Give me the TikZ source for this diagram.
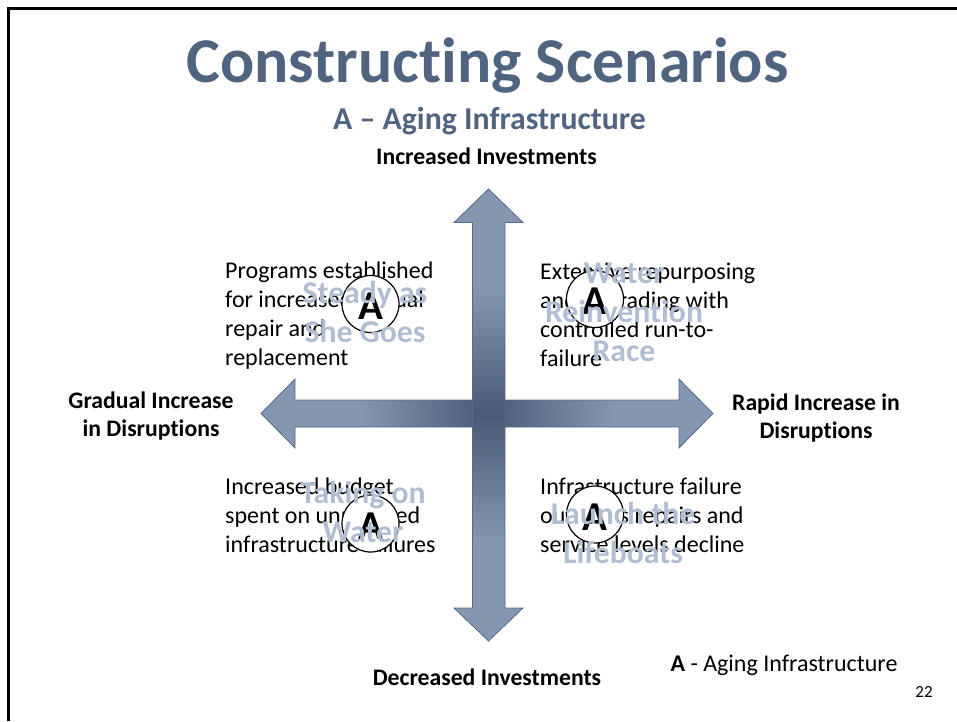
\documentclass[tikz,border=0pt]{standalone}
\usepackage{fontspec}
\setmainfont{Carlito}[Ligatures={TeX,NoCommon}]
\definecolor{axislight}{HTML}{8496B0}
\definecolor{axisdark}{HTML}{4A5A76}
\definecolor{axisedge}{HTML}{586C8A}
\definecolor{headblue}{HTML}{50647F}
\definecolor{faintblue}{HTML}{B0BDD2}
\pgfdeclareverticalshading{axisfade}{100bp}{color(0bp)=(axislight); color(36bp)=(axislight); color(50bp)=(axisdark); color(64bp)=(axislight); color(100bp)=(axislight)}
\pgfdeclarehorizontalshading{axisfadeh}{100bp}{color(0bp)=(axislight); color(36bp)=(axislight); color(50bp)=(axisdark); color(64bp)=(axislight); color(100bp)=(axislight)}
\begin{document}
\begin{tikzpicture}[x=1pt, y=-1pt,
	head/.style={inner sep=0pt, align=center, font=\bfseries\fontsize{23.7}{28}\selectfont},
	note/.style={inner sep=0pt, anchor=north west, align=left, font=\fontsize{24}{29}\selectfont},
	badge/.style={draw, circle, line width=1.2pt, fill=white, minimum size=57pt, inner sep=0pt, text height=31pt, text depth=0pt, font=\bfseries\fontsize{41}{41}\selectfont},
	faint/.style={inner sep=0pt, align=center, text=faintblue, font=\bfseries\fontsize{31.7}{39}\selectfont}]
	\useasboundingbox (0,0) rectangle (957,721);
	\draw[line width=2.7pt] (8.5,721) -- (8.5,8.5) -- (957,8.5);

	\node[inner sep=0pt, text=headblue, font=\bfseries\fontsize{63.8}{64}\selectfont] (T) at (487.5,66) {Constructing Scenarios};
	\node[inner sep=0pt, text=headblue, font=\bfseries\fontsize{31.8}{32}\selectfont] (S) at (489.5,121) {A -- Aging Infrastructure};

	% the two axes
	\path[draw=axisedge, shading=axisfadeh, line width=.8pt] (261,413.5) -- (295,379) -- (295,400) -- (679,400) -- (679,379) -- (713,413.5) -- (679,448) -- (679,427) -- (295,427) -- (295,448) -- cycle;
	\path[draw=axisedge, shading=axisfade, line width=.8pt] (488.5,189) -- (523,222.5) -- (505,222.5) -- (505,608) -- (523,608) -- (488.5,641) -- (454,608) -- (472.5,608) -- (472.5,222.5) -- (454,222.5) -- cycle;

	\node[head] (N) at (486.5,156.5) {Increased Investments};
	\node[head] (E) at (816,418.5) {Rapid Increase in\\Disruptions};
	\node[head] (W) at (151,416.5) {Gradual Increase\\in Disruptions};
	\node[head] (D) at (487,677) {Decreased Investments};

	\node[note] (NW) at (225,262) {Programs established\\for increased annual\\repair and\\replacement};
	\node[note] (NE) at (540,263) {Extensive repurposing\\and upgrading with\\controlled run-to-\\failure};
	\node[note] (SW) at (225,478) {Increased budget\\spent on unplanned\\infrastructure failures};
	\node[note] (SE) at (540,478) {Infrastructure failure\\outpaces repairs and\\service levels decline};

	\node[badge] (A1) at (370.5,304) {A};
	\node[badge] (A2) at (595,299) {A};
	\node[badge] (A3) at (370.5,523.5) {A};
	\node[badge] (A4) at (595,514.5) {A};

	\node[faint] (F1) at (365,312) {Steady as\\She Goes};
	\node[faint] (F2) at (624,312) {Water\\Reinvention\\Race};
	\node[faint] (F3) at (363,511.5) {Taking on\\Water};
	\node[faint] (F4) at (623,532.5) {Launch the\\Lifeboats};

	\node[inner sep=0pt, font=\fontsize{24}{28}\selectfont] (L) at (784,665) {\textbf{A} - Aging Infrastructure};
	\node[inner sep=0pt, font=\fontsize{17}{17}\selectfont] (P) at (924,692) {22};
\end{tikzpicture}
\end{document}
